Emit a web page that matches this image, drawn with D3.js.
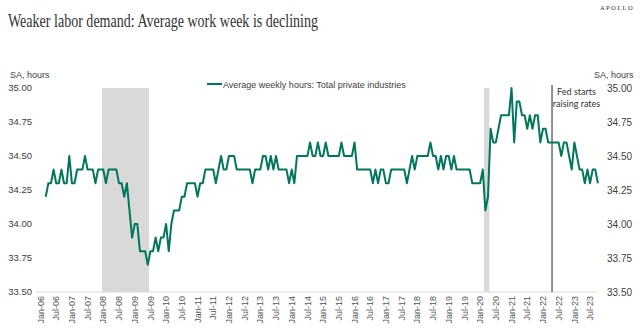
<!DOCTYPE html>
<html>
<head>
<meta charset="utf-8">
<script src="https://cdn.jsdelivr.net/npm/d3@7"></script>
<style>
  body { margin: 0; background: #fff; }
  svg { display: block; }
</style>
</head>
<body>
<div class="content"></div>
<script>
// monthly average weekly hours, total private, SA (first value is Mar 2006)
var firstMonth = "2006-03";
var hours = [
  34.2, 34.3, 34.3, 34.4, 34.3, 34.3, 34.4, 34.3, 34.3, 34.5,                 // 2006
  34.3, 34.3, 34.4, 34.4, 34.4, 34.5, 34.4, 34.4, 34.4, 34.3, 34.4, 34.4,     // 2007
  34.4, 34.3, 34.4, 34.4, 34.4, 34.4, 34.3, 34.3, 34.2, 34.3, 34.1, 33.9,     // 2008
  34.0, 34.0, 33.8, 33.8, 33.8, 33.7, 33.8, 33.8, 33.9, 33.8, 33.9, 33.9,     // 2009
  34.0, 33.8, 34.0, 34.1, 34.1, 34.1, 34.2, 34.2, 34.3, 34.3, 34.3, 34.3,     // 2010
  34.2, 34.3, 34.3, 34.4, 34.4, 34.4, 34.4, 34.3, 34.4, 34.5, 34.4, 34.4,     // 2011
  34.5, 34.5, 34.5, 34.4, 34.4, 34.4, 34.4, 34.4, 34.4, 34.3, 34.4, 34.4,     // 2012
  34.4, 34.5, 34.5, 34.4, 34.5, 34.4, 34.5, 34.4, 34.4, 34.4, 34.4, 34.3,     // 2013
  34.4, 34.3, 34.5, 34.5, 34.5, 34.5, 34.5, 34.6, 34.5, 34.5, 34.6, 34.5,     // 2014
  34.5, 34.6, 34.5, 34.5, 34.5, 34.5, 34.5, 34.6, 34.5, 34.5, 34.5, 34.5,     // 2015
  34.6, 34.4, 34.4, 34.4, 34.4, 34.4, 34.4, 34.3, 34.4, 34.3, 34.4, 34.4,     // 2016
  34.3, 34.3, 34.4, 34.4, 34.4, 34.4, 34.4, 34.4, 34.3, 34.4, 34.5, 34.4,     // 2017
  34.5, 34.5, 34.5, 34.5, 34.5, 34.6, 34.5, 34.5, 34.4, 34.5, 34.4, 34.5,     // 2018
  34.5, 34.4, 34.5, 34.4, 34.4, 34.4, 34.4, 34.4, 34.4, 34.3, 34.3, 34.3,     // 2019
  34.3, 34.4, 34.1, 34.2, 34.7, 34.6, 34.6, 34.7, 34.8, 34.8, 34.8, 34.8,     // 2020
  35.0, 34.6, 34.9, 34.9, 34.8, 34.8, 34.7, 34.8, 34.7, 34.8, 34.8, 34.6,     // 2021
  34.7, 34.7, 34.6, 34.6, 34.6, 34.6, 34.6, 34.5, 34.6, 34.6, 34.5, 34.4,     // 2022
  34.6, 34.5, 34.4, 34.4, 34.3, 34.4, 34.3, 34.4, 34.4, 34.3                  // 2023
];

var xTickLabels = [
  "Jan-06","Jul-06","Jan-07","Jul-07","Jan-08","Jul-08","Jan-09","Jul-09",
  "Jan-10","Jul-10","Jan-11","Jul-11","Jan-12","Jul-12","Jan-13","Jul-13",
  "Jan-14","Jul-14","Jan-15","Jul-15","Jan-16","Jul-16","Jan-17","Jul-17",
  "Jan-18","Jul-18","Jan-19","Jul-19","Jan-20","Jul-20","Jan-21","Jul-21",
  "Jan-22","Jul-22","Jan-23","Jul-23"
];
var yTicks = [33.50, 33.75, 34.00, 34.25, 34.50, 34.75, 35.00];

// recession months (shaded)
var recessions = [
  {from: "2008-01", to: "2009-06"},
  {from: "2020-03", to: "2020-04"}
];
var fedHike = "2022-04-15";

var green = "#00775a";
var textColor = "#404040";
var sans = "'Liberation Sans', Arial, sans-serif";

// months since Jan 2006 (fractional if a day is given)
function monthIndex(s) {
  var p = s.split("-").map(Number);
  var i = (p[0] - 2006) * 12 + (p[1] - 1);
  if (p.length > 2) i += (p[2] - 1) / 30;
  return i;
}

var width = 640, height = 328;

var svg = d3.select(".content")
  .append("svg")
  .attr("width", width)
  .attr("height", height);

var start = monthIndex(firstMonth);
var data = hours.map(function(v, i) { return {m: start + i, v: v}; });

var x = d3.scaleLinear()
  .domain([0, 213])
  .range([40.5, 597.9]);
var step = x(1) - x(0);

var y = d3.scaleLinear()
  .domain([33.5, 35])
  .range([292, 88]);

// title + brand
svg.append("text")
  .attr("x", 8)
  .attr("y", 27)
  .attr("font-family", "'Liberation Serif', 'Times New Roman', serif")
  .attr("font-size", 18.5)
  .attr("fill", "#333")
  .attr("textLength", 310)
  .attr("lengthAdjust", "spacingAndGlyphs")
  .text("Weaker labor demand: Average work week is declining");

svg.append("text")
  .attr("x", 634)
  .attr("y", 10)
  .attr("text-anchor", "end")
  .attr("font-family", "'Liberation Serif', serif")
  .attr("font-size", 6.5)
  .attr("letter-spacing", 1.4)
  .attr("fill", "#333")
  .text("APOLLO");

// recession bars
svg.selectAll("rect.rec")
  .data(recessions)
  .enter()
  .append("rect")
  .attr("class", "rec")
  .attr("x", function(d) { return x(monthIndex(d.from)) - step / 2; })
  .attr("width", function(d) { return x(monthIndex(d.to)) - x(monthIndex(d.from)) + step; })
  .attr("y", y(35))
  .attr("height", y(33.5) - y(35))
  .attr("fill", "#d9d9d9");

// baseline
svg.append("line")
  .attr("x1", 36)
  .attr("x2", 597)
  .attr("y1", y(33.5))
  .attr("y2", y(33.5))
  .attr("stroke", "#d9d9d9")
  .attr("stroke-width", 1);

// y labels on both sides
svg.append("g")
  .selectAll("text")
  .data(yTicks)
  .enter()
  .append("text")
  .attr("x", 32)
  .attr("y", function(d) { return y(d); })
  .attr("dy", "0.35em")
  .attr("text-anchor", "end")
  .attr("font-family", sans)
  .attr("font-size", 9.5)
  .attr("fill", textColor)
  .text(function(d) { return d.toFixed(2); });

svg.append("g")
  .selectAll("text")
  .data(yTicks)
  .enter()
  .append("text")
  .attr("x", 607)
  .attr("y", function(d) { return y(d); })
  .attr("dy", "0.35em")
  .attr("font-family", sans)
  .attr("font-size", 10)
  .attr("fill", textColor)
  .text(function(d) { return d.toFixed(2); });

svg.append("text")
  .attr("x", 10)
  .attr("y", 78)
  .attr("font-family", sans)
  .attr("font-size", 9)
  .attr("fill", textColor)
  .text("SA, hours");

svg.append("text")
  .attr("x", 594)
  .attr("y", 78)
  .attr("font-family", sans)
  .attr("font-size", 9)
  .attr("fill", textColor)
  .text("SA, hours");

// x labels, every six months, rotated
svg.append("g")
  .selectAll("text")
  .data(xTickLabels)
  .enter()
  .append("text")
  .attr("transform", function(d, i) { return "translate(" + x(i * 6) + ",296) rotate(-90)"; })
  .attr("dy", "0.35em")
  .attr("text-anchor", "end")
  .attr("font-family", sans)
  .attr("font-size", 9)
  .attr("fill", "#555")
  .text(function(d) { return d; });

// fed line + note
var fx = x(monthIndex(fedHike));
svg.append("line")
  .attr("x1", fx)
  .attr("x2", fx)
  .attr("y1", 85)
  .attr("y2", y(33.5))
  .attr("stroke", "#262626")
  .attr("stroke-width", 1);

svg.append("text")
  .attr("x", 576.5)
  .attr("y", 95)
  .attr("text-anchor", "middle")
  .attr("font-family", "Lato, 'Open Sans', sans-serif")
  .attr("font-size", 9)
  .attr("fill", "#333")
  .text("Fed starts");

svg.append("text")
  .attr("x", 576.5)
  .attr("y", 107)
  .attr("text-anchor", "middle")
  .attr("font-family", "Lato, 'Open Sans', sans-serif")
  .attr("font-size", 9)
  .attr("fill", "#333")
  .text("raising rates");

// the series
svg.append("path")
  .datum(data)
  .attr("fill", "none")
  .attr("stroke", green)
  .attr("stroke-width", 2)
  .attr("stroke-linejoin", "round")
  .attr("d", d3.line()
    .x(function(d) { return x(d.m); })
    .y(function(d) { return y(d.v); })
  );

// legend
svg.append("line")
  .attr("x1", 207)
  .attr("x2", 222)
  .attr("y1", 84)
  .attr("y2", 84)
  .attr("stroke", green)
  .attr("stroke-width", 2);

svg.append("text")
  .attr("x", 223)
  .attr("y", 87.5)
  .attr("font-family", sans)
  .attr("font-size", 9)
  .attr("fill", textColor)
  .text("Average weekly hours: Total private industries");
</script>
</body>
</html>
